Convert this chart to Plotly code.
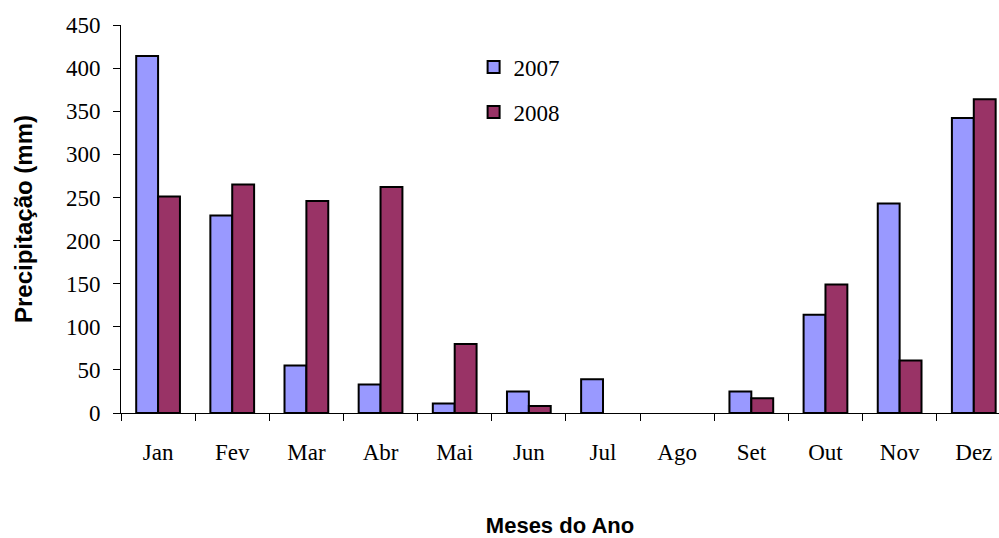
import plotly.graph_objects as go

months = ["Jan", "Fev", "Mar", "Abr", "Mai", "Jun", "Jul", "Ago", "Set", "Out", "Nov", "Dez"]
precip_2007 = [414, 229, 55, 33, 11, 25, 39, 0, 25, 114, 243, 342]
precip_2008 = [251, 265, 246, 262, 80, 8, 0, 0, 17, 149, 61, 364]
y_ticks = [0, 50, 100, 150, 200, 250, 300, 350, 400, 450]

serif = "Liberation Serif, Times New Roman, serif"
sans = "Liberation Sans, Arial, sans-serif"


def shown(values):
    # zero-height bars have no visible mark in the reference
    return [v if v > 0 else None for v in values]


fig = go.Figure()
fig.add_trace(go.Bar(x=months, y=shown(precip_2007), name="2007", legendgroup="a",
                     marker=dict(color="#9999FF", line=dict(color="black", width=2))))
fig.add_trace(go.Bar(x=months, y=shown(precip_2008), name="2008", legendgroup="b",
                     marker=dict(color="#993366", line=dict(color="black", width=2))))

fig.update_layout(
    width=999, height=538,
    margin=dict(l=121, r=0, t=25, b=125),
    plot_bgcolor="white", paper_bgcolor="white",
    barmode="group", bargap=0.41, bargroupgap=0,
    showlegend=True,
    legend=dict(x=0.4016, y=0.947, xanchor="left", yanchor="top",
                font=dict(family=serif, size=23, color="black"),
                bgcolor="rgba(0,0,0,0)", tracegroupgap=12, itemsizing="constant"),
    xaxis=dict(
        type="category", range=[-0.5, 11.34],
        showline=True, linecolor="black", linewidth=1,
        ticks="outside", tickson="boundaries", ticklen=7, tickcolor="black",
        tickfont=dict(family=serif, size=23, color="black"),
        ticklabelstandoff=18,
        title=dict(text="<b>Meses do Ano</b>", font=dict(family=sans, size=22, color="black"), standoff=56),
        showgrid=False,
    ),
    yaxis=dict(
        range=[0, 450], tickvals=y_ticks, showline=True, linecolor="black", linewidth=1,
        ticks="outside", ticklen=7, tickcolor="black",
        tickfont=dict(family=serif, size=23, color="black"),
        ticklabelstandoff=8,
        title=dict(text="<b>Precipitação (mm)</b>", font=dict(family=sans, size=24, color="black"), standoff=26),
        showgrid=False, zeroline=False,
    ),
)

# place the 999x538 figure flush with the 999x538 window (no default 8px page margin)
fig.write_html("out.html", config={"displayModeBar": False},
               post_script="document.body.style.margin='0';")
